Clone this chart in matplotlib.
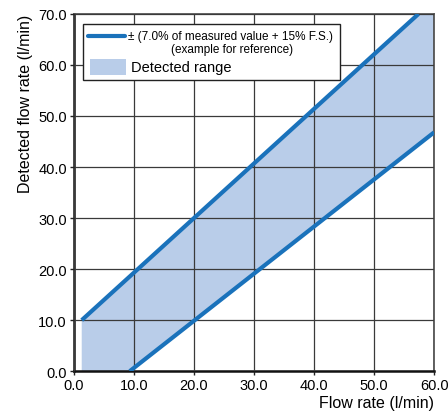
import matplotlib
matplotlib.use("Agg")
import matplotlib.pyplot as plt
from matplotlib.patches import Rectangle

plt.rcParams['font.family'] = ['Liberation Sans', 'DejaVu Sans']

# values
upper_x = [1.3, 57.4]
upper_y = [10.0, 70.0]
lower_x = [9.3, 60.0]
lower_y = [0.0, 46.8]
x_ticks = [0, 10, 20, 30, 40, 50, 60]
y_ticks = [0, 10, 20, 30, 40, 50, 60, 70]

line_col = '#1a72bb'
fill_col = '#b9cde9'

fig = plt.figure(figsize=(4.48, 4.14), dpi=100)
ax = fig.add_axes([0.165, 0.101, 0.804, 0.863])

# detected range polygon
poly_x = [upper_x[0], upper_x[0], upper_x[1], lower_x[1], lower_x[1], lower_x[0]]
poly_y = [0, upper_y[0], upper_y[1], y_ticks[-1], lower_y[1], lower_y[0]]
ax.fill(poly_x, poly_y, color=fill_col, lw=0, zorder=1)

ax.plot(upper_x, upper_y, color=line_col, lw=3, solid_capstyle='butt', zorder=3)
ax.plot(lower_x, lower_y, color=line_col, lw=3, solid_capstyle='butt', zorder=3)

ax.set_xlim(0, 60)
ax.set_ylim(0, 70)
ax.set_xticks(x_ticks)
ax.set_yticks(y_ticks)
ax.set_xticklabels(['%.1f' % v for v in x_ticks], fontsize=10.5)
ax.set_yticklabels(['%.1f' % v for v in y_ticks], fontsize=10.5)
ax.grid(True, color='#3a3a3a', lw=0.9, zorder=2)
ax.set_axisbelow(False)
ax.tick_params(direction='out', length=3, width=1, color='#222222', pad=2)

for s in ['left', 'bottom']:
    ax.spines[s].set_linewidth(1.8)
    ax.spines[s].set_color('#111111')
for s in ['top', 'right']:
    ax.spines[s].set_linewidth(1.3)
    ax.spines[s].set_color('#555555')

ax.set_xlabel('Flow rate (l/min)', fontsize=11.5, loc='right', labelpad=2)
ax.set_ylabel('Detected flow rate (l/min)', fontsize=11.5, loc='top', labelpad=4)

# legend box drawn by hand (two-line label with the line at the first line)
tr = ax.transAxes
ax.add_patch(Rectangle((0.026, 0.815), 0.713, 0.157, transform=tr, facecolor='white',
                       edgecolor='#222222', lw=1.0, zorder=5, clip_on=False))
ax.plot([0.039, 0.142], [0.9375, 0.9375], transform=tr, color=line_col, lw=3,
        solid_capstyle='round', zorder=6, clip_on=False)
ax.text(0.149, 0.9375, '± (7.0% of measured value + 15% F.S.)', transform=tr,
        fontsize=8.5, ha='left', va='center', zorder=6)
ax.text(0.438, 0.902, '(example for reference)', transform=tr,
        fontsize=8.5, ha='center', va='center', zorder=6)
ax.add_patch(Rectangle((0.044, 0.830), 0.100, 0.044, transform=tr, facecolor=fill_col,
                       edgecolor='none', zorder=6, clip_on=False))
ax.text(0.158, 0.852, 'Detected range', transform=tr,
        fontsize=10.5, ha='left', va='center', zorder=6)

fig.savefig('out.png', dpi=100)
